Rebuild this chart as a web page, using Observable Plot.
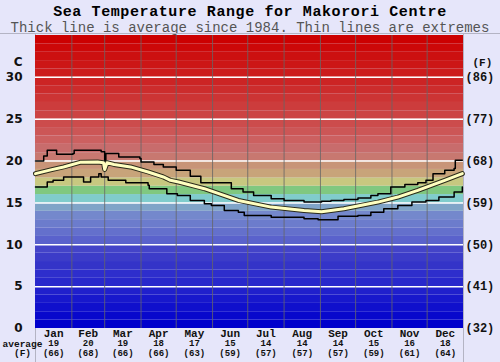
<!DOCTYPE html>
<html>
<head>
<meta charset="utf-8">
<script src="https://cdn.jsdelivr.net/npm/d3@7"></script>
<script src="https://cdn.jsdelivr.net/npm/@observablehq/plot@0.6"></script>
<style>
  html, body { margin: 0; padding: 0; background: #e6e6fa; }
  #wrap { position: relative; width: 500px; height: 362px; overflow: hidden; background: #e6e6fa; }
  #title { position: absolute; top: 4px; left: 0; width: 500px; text-align: center;
           font: bold 15px "Liberation Mono", monospace; letter-spacing: 0.6px; line-height: 18px; color: #000; }
  #subtitle { position: absolute; top: 20px; left: 0; width: 500px; text-align: center;
           font: 14px "Liberation Mono", monospace; line-height: 16px; color: #555; }
  #hline { position: absolute; top: 33px; left: 0; width: 500px; height: 1px; background: #b4b4c4; }
  #vl { position: absolute; top: 33px; left: 35px; width: 1px; height: 329px; background: #b4b4c4; }
  #vr { position: absolute; top: 33px; left: 463px; width: 1px; height: 329px; background: #b4b4c4; }
  #chart { position: absolute; top: 34px; left: 0; }
</style>
</head>
<body>
<div id="wrap">
  <div id="title">Sea Temperature Range for Makorori Centre</div>
  <div id="subtitle">Thick line is average since 1984. Thin lines are extremes</div>
  <div id="hline"></div><div id="vl"></div><div id="vr"></div>
  <div id="chart"></div>
</div>
<script>
// ---- data ----
const monthNames = ["Jan","Feb","Mar","Apr","May","Jun","Jul","Aug","Sep","Oct","Nov","Dec"];
const monthStartDay = [0,31,59,90,120,151,181,212,243,273,304,334];
const yearDays = 365;
const avgC = [19,20,19,18,17,15,14,14,14,15,16,18];
const avgF = [66,68,66,66,63,59,57,57,57,59,61,64];
const ticksC = [0,5,10,15,20,25,30];
const ticksF = ["(32)","(41)","(50)","(59)","(68)","(77)","(86)"];

// max extreme (day of year, deg C)
const maxDay  = [0,7,10,18,32,33,56,59,60,71,89,90,101,109,120,132,141,167,177,186,201,212,229,244,252,263,275,286,292,303,315,326,333,339,349,357,358,364];
const maxTemp = [20.0,20.6,21.3,20.8,20.9,21.3,21.1,19.5,20.9,20.5,20.3,19.9,19.6,19.3,18.9,18.2,17.4,16.7,16.3,15.9,15.5,15.3,15.1,15.2,15.3,15.4,15.6,15.9,16.1,16.9,17.2,17.4,17.7,18.5,18.9,19.1,20.1,20.1];
// average
const avgDay  = [0,13,24,38,53,58,59,61,67,81,96,109,115,122,144,173,201,229,244,263,292,309,326,349,364];
const avgTemp = [18.5,18.95,19.3,19.85,19.9,19.8,19.0,19.8,19.6,19.3,18.7,18.1,17.7,17.5,16.7,15.3,14.5,14.1,13.95,14.3,15.1,15.7,16.5,17.7,18.5];
// min extreme
const minDay  = [0,10,15,24,41,47,54,56,62,77,96,97,112,121,132,144,150,161,173,178,201,229,241,258,275,286,297,309,321,333,344,357,364];
const minTemp = [16.9,17.5,17.7,18.1,17.5,18.1,18.5,18.1,17.7,17.4,17.1,16.7,16.1,15.9,15.3,14.9,14.7,14.1,13.9,13.5,13.3,13.1,13.0,13.4,13.5,13.9,14.3,14.7,15.1,15.3,15.7,16.3,16.9];

// background band palette, 1 degree per band from 0 upward
const bandPalette = ["#0000cc","#0808cc","#1010cc","#1818cc","#2020cc","#2828cc","#2e2ecc","#3434c8","#3c3cc8","#4444c8",
  "#5a62cc","#6470cc","#6c7ccc","#7488cc","#80a4c8","#80cccc","#80c880","#c8c880","#c8a47a","#c89478",
  "#c87870","#c86c6c","#cc6060","#cc5656","#cc4c4c","#cc4444","#cc3c3c","#cc3434","#cc2c2c","#cc2424",
  "#cc1c1c","#cc1616","#cc1010","#cc0808","#cc0000"];

// ---- tables ----
const bands = bandPalette.map((c, i) => ({lo: i, hi: i + 1, c}));
const bounds = monthStartDay.concat([yearDays]);
const months = monthNames.map((m, i) => ({m, mid: (bounds[i] + bounds[i + 1]) / 2, c: String(avgC[i]), f: `(${avgF[i]})`}));
const maxRows = maxDay.map((d, i) => ({d, t: maxTemp[i]}));
const avgRows = avgDay.map((d, i) => ({d, t: avgTemp[i]}));
const minRows = minDay.map((d, i) => ({d, t: minTemp[i]}));

const mono = "Liberation Mono, monospace";
const sans = "DejaVu Sans, sans-serif";

const plot = Plot.plot({
  width: 500,
  height: 328,
  marginTop: 1,
  marginBottom: 34,
  marginLeft: 35,
  marginRight: 37,
  style: {background: "transparent", overflow: "visible"},
  x: {domain: [0, yearDays], axis: null},
  y: {domain: [0, 35], axis: null},
  marks: [
    Plot.rect(bands, {x1: 0, x2: yearDays, y1: "lo", y2: "hi", fill: "c"}),
    Plot.ruleY(ticksC.filter(t => t > 0), {stroke: "white", strokeWidth: 1.5}),
    Plot.ruleX(monthStartDay.slice(1), {stroke: "#666", strokeWidth: 1, strokeOpacity: 0.8}),
    Plot.line(maxRows, {x: "d", y: "t", curve: "step-after", stroke: "#000", strokeWidth: 1.5}),
    Plot.line(minRows, {x: "d", y: "t", curve: "step-after", stroke: "#000", strokeWidth: 1.5}),
    Plot.line(avgRows, {x: "d", y: "t", stroke: "#2a2a1a", strokeWidth: 5}),
    Plot.line(avgRows, {x: "d", y: "t", stroke: "#ffffc0", strokeWidth: 3}),
    // left ticks
    Plot.text(ticksC, {y: d => d, text: d => String(d), frameAnchor: "left", dx: -13, textAnchor: "end",
      fontFamily: sans, fontWeight: "bold", fontSize: 12, fill: "#111"}),
    Plot.text(["C"], {frameAnchor: "top-left", dx: -13, dy: 27, lineAnchor: "middle", textAnchor: "end",
      fontFamily: sans, fontWeight: "bold", fontSize: 12, fill: "#111"}),
    // right ticks
    Plot.text(ticksC, {y: d => d, text: (d, i) => ticksF[i], frameAnchor: "right", dx: 2, textAnchor: "start",
      fontFamily: mono, fontWeight: "bold", fontSize: 12, fill: "#111"}),
    Plot.text(["(F)"], {frameAnchor: "top-right", dx: 9, dy: 27, lineAnchor: "middle", textAnchor: "start",
      fontFamily: mono, fontWeight: "bold", fontSize: 11, fill: "#111"}),
    // bottom labels
    Plot.text(months, {x: "mid", text: "m", frameAnchor: "bottom", dy: 5, lineAnchor: "middle",
      fontFamily: mono, fontWeight: "bold", fontSize: 11, fill: "#111"}),
    Plot.text(months, {x: "mid", text: "c", frameAnchor: "bottom", dy: 15, lineAnchor: "middle",
      fontFamily: mono, fontWeight: "bold", fontSize: 9, fill: "#111"}),
    Plot.text(months, {x: "mid", text: "f", frameAnchor: "bottom", dy: 24.5, lineAnchor: "middle",
      fontFamily: mono, fontWeight: "bold", fontSize: 9, fill: "#111"}),
    Plot.text(["average"], {frameAnchor: "bottom-left", dx: -13, dy: 15, lineAnchor: "middle", textAnchor: "middle",
      fontFamily: mono, fontWeight: "bold", fontSize: 9.5, fill: "#111"}),
    Plot.text(["(F)"], {frameAnchor: "bottom-left", dx: -13, dy: 24.5, lineAnchor: "middle", textAnchor: "middle",
      fontFamily: mono, fontWeight: "bold", fontSize: 9.5, fill: "#111"})
  ]
});
document.getElementById("chart").appendChild(plot);
</script>
</body>
</html>
